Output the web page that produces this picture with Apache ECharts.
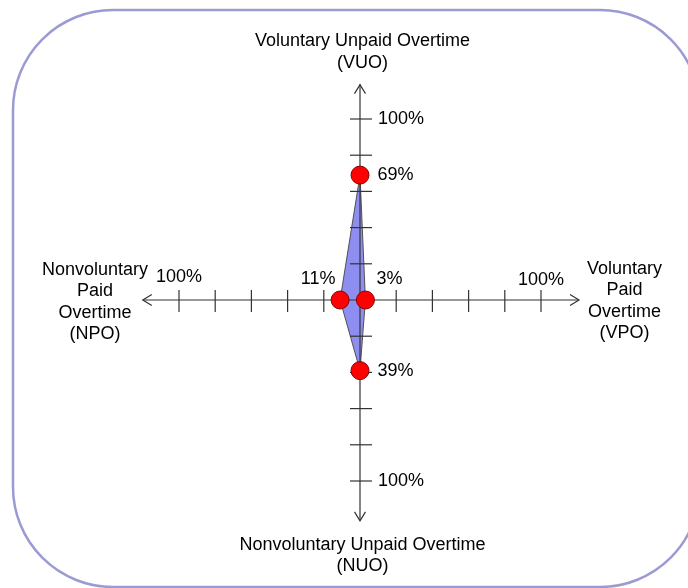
<!DOCTYPE html>
<html lang="en">
<head>
<meta charset="UTF-8">
<title>Overtime</title>
<style>html, body { margin: 0; padding: 0; background: #fff; }</style>
</head>
<body>
<div id="main" style="width: 688px; height: 588px"></div>
<script src="https://cdn.jsdelivr.net/npm/echarts@6/dist/echarts.min.js"></script>
<script type="text/javascript">
// order of everything below: VUO (up), VPO (right), NUO (down), NPO (left)
var axisNames = [
    'Voluntary Unpaid Overtime\n(VUO)',
    'Voluntary\nPaid\nOvertime\n(VPO)',
    'Nonvoluntary Unpaid Overtime\n(NUO)',
    'Nonvoluntary\nPaid\nOvertime\n(NPO)'
];
var shares = [69, 3, 39, 11];          // %
var tickValues = [20, 40, 60, 80, 100];
var axisEnds = [119, 121, 122, 120];   // where the arrows stop, in %
var dirs = [[0, 1], [1, 0], [0, -1], [-1, 0]];

var font = 'Liberation Sans, Arial, sans-serif';
var ink = '#333';

var myChart = echarts.init(document.getElementById('main'));

// points of the shape
var points = shares.map(function (v, i) {
    return [dirs[i][0] * v, dirs[i][1] * v];
});

var axisData = dirs.map(function (d, i) {
    return [d[0], d[1], axisEnds[i]];
});

var tickData = [];
dirs.forEach(function (d) {
    tickValues.forEach(function (t) {
        tickData.push([d[0] * t, d[1] * t, d[0] !== 0 ? 0 : 1]);
    });
});

function renderAxis(params, api) {
    var dx = api.value(0), dy = api.value(1), len = api.value(2);
    var o = api.coord([0, 0]);
    var e = api.coord([dx * len, dy * len]);
    var ux = dx, uy = -dy;      // pixel direction
    var px = -uy, py = ux;
    var a = 9, w = 5.5;
    return {
        type: 'group',
        children: [{
            type: 'line',
            shape: { x1: o[0], y1: o[1], x2: e[0], y2: e[1] },
            style: { stroke: ink, lineWidth: 1.2 }
        }, {
            type: 'polyline',
            shape: {
                points: [
                    [e[0] - ux * a + px * w, e[1] - uy * a + py * w],
                    [e[0], e[1]],
                    [e[0] - ux * a - px * w, e[1] - uy * a - py * w]
                ]
            },
            style: { stroke: ink, fill: null, lineWidth: 1.2 }
        }]
    };
}

function renderTick(params, api) {
    var c = api.coord([api.value(0), api.value(1)]);
    var shape = api.value(2) === 0
        ? { x1: c[0], y1: c[1] - 10, x2: c[0], y2: c[1] + 12 }
        : { x1: c[0] - 10, y1: c[1], x2: c[0] + 12, y2: c[1] };
    return { type: 'line', shape: shape, style: { stroke: ink, lineWidth: 1.2 } };
}

function renderShape(params, api) {
    if (params.dataIndex !== 0) return;
    return {
        type: 'polygon',
        shape: { points: points.map(function (p) { return api.coord(p); }) },
        style: { fill: '#8e8ef0', stroke: '#444', lineWidth: 0.9 }
    };
}

var labelBase = { show: true, fontFamily: font, fontSize: 18, color: '#000' };

var dotLabels = [
    { position: 'right', distance: 8 },
    { position: 'top', distance: 2, offset: [24, 0] },
    { position: 'right', distance: 8 },
    { position: 'top', distance: 2, offset: [-22, 0] }
];
var endLabels = [
    { position: 'right', distance: 18 },
    { position: 'top', distance: 11 },
    { position: 'right', distance: 18 },
    { position: 'top', distance: 14 }
];
var nameAt = [[1.4, 137], [146.1, -0.6], [1.4, -141.2], [-146.4, -1.1]];

option = {
    animation: false,
    backgroundColor: '#fff',
    graphic: [{
        type: 'rect',
        z: -10,
        silent: true,
        shape: { x: 13, y: 10, width: 687, height: 577, r: 100 },
        style: { fill: null, stroke: '#9b9bd3', lineWidth: 2.5 }
    }],
    grid: { left: 133.75, top: 73.75, width: 452.5, height: 452.5 },
    xAxis: { type: 'value', min: -125, max: 125, show: false },
    yAxis: { type: 'value', min: -125, max: 125, show: false },
    series: [{
        type: 'custom',
        z: 1,
        renderItem: renderShape,
        data: points
    }, {
        type: 'custom',
        z: 2,
        renderItem: renderAxis,
        data: axisData
    }, {
        type: 'custom',
        z: 2,
        renderItem: renderTick,
        data: tickData
    }, {
        type: 'scatter',
        z: 3,
        symbolSize: 0,
        clip: false,
        itemStyle: { opacity: 1 },
        data: dirs.map(function (d, i) {
            return {
                value: [d[0] * 100, d[1] * 100],
                label: Object.assign({}, labelBase, endLabels[i], { formatter: '100%' })
            };
        })
    }, {
        type: 'scatter',
        z: 3,
        symbolSize: 0,
        clip: false,
        itemStyle: { opacity: 1 },
        data: axisNames.map(function (n, i) {
            return {
                value: nameAt[i],
                label: Object.assign({}, labelBase, {
                    position: 'inside', formatter: n, lineHeight: 21.5, align: 'center'
                })
            };
        })
    }, {
        type: 'scatter',
        z: 4,
        symbolSize: 18,
        itemStyle: { color: '#ff0000', borderColor: '#8a0000', borderWidth: 1, opacity: 1 },
        data: points.map(function (p, i) {
            return {
                value: p,
                label: Object.assign({}, labelBase, dotLabels[i], { formatter: shares[i] + '%' })
            };
        })
    }]
};
myChart.setOption(option);
</script>
</body>
</html>
